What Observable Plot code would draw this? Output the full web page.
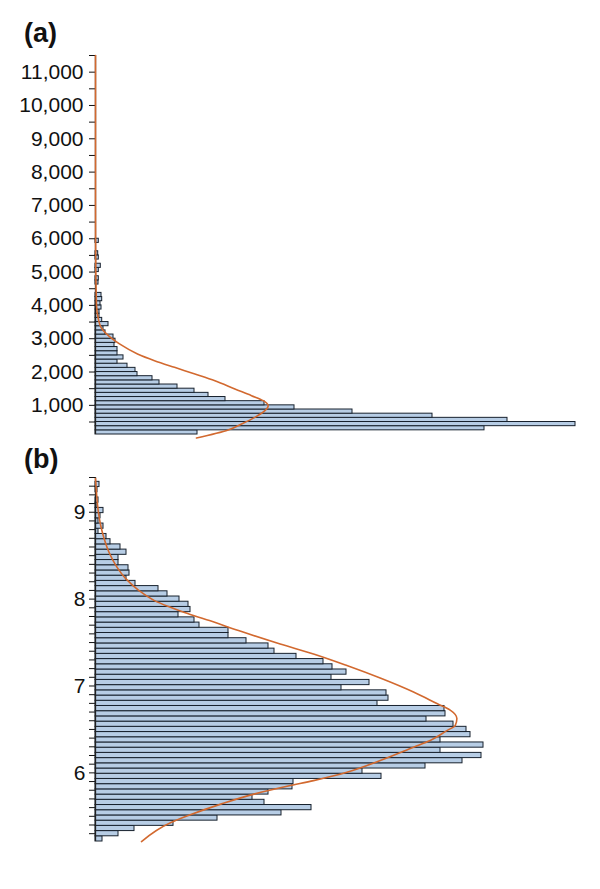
<!DOCTYPE html>
<html>
<head>
<meta charset="utf-8">
<script src="https://cdn.jsdelivr.net/npm/d3@7"></script>
<script src="https://cdn.jsdelivr.net/npm/@observablehq/plot@0.6"></script>
<style>
  body { margin: 0; background: #fff; }
  #wrap { position: relative; width: 600px; height: 889px; overflow: hidden; }
  .panel { position: absolute; left: 0; }
  .lab { position: absolute; left: 24px; font: bold 27px/1 "Liberation Sans", Arial, sans-serif; color: #111; }
</style>
</head>
<body>
<div id="wrap">
  <div class="panel" id="pa" style="top:0px"></div>
  <div class="panel" id="pb" style="top:445px"></div>
  <div class="lab" style="top:20px">(a)</div>
  <div class="lab" style="top:446px">(b)</div>
</div>
<script>
// ---------- Panel (a): raw values ----------
const binWidthA = 125;
const binLowA = [125,250,375,500,625,750,875,1000,1125,1250,1375,1500,1625,1750,1875,2000,
  2125,2250,2375,2500,2625,2750,2875,3000,3125,3250,3375,3500,3625,3750,3875,4000,4125,4250,
  4375,4500,4625,4750,4875,5000,5125,5250,5375,5500,5625,5750,5875];
const countA = [102,389,480,412,337,257,199,169,130,113,99,82,64,57,42,40,
  32,22,28,22,22,19,20,18,10,8,13,6.7,4,4,6,5,6.7,6,
  0,0,3,3.3,0,3.3,5.3,0,3.3,2.7,0,0,3.3];
const curveValueA = [11500,7000,5000,4500,4000,3600,3342,3143,2843,2543,2342,2141,1942,1741,1492,1291,1141,991,841,640,441,261,21];
const curveDensityA = [0,0,0.3,0.6,1,2.8,5.5,11,24,42,59,79,99.4,119.4,139.4,156,167.7,172.7,169.4,159.4,146,132.7,101];
const ticksA = [500,1000,1500,2000,2500,3000,3500,4000,4500,5000,5500,6000,6500,7000,7500,8000,8500,9000,9500,10000,10500,11000,11500];
const labelledA = [1000,2000,3000,4000,5000,6000,7000,8000,9000,10000,11000];

// ---------- Panel (b): log values ----------
const binWidthB = 0.06;
const binLowB = [5.21,5.27,5.33,5.39,5.45,5.51,5.57,5.63,5.69,5.75,5.81,5.87,5.93,5.99,6.05,6.11,6.17,6.23,6.29,6.35,
  6.41,6.47,6.53,6.59,6.65,6.71,6.77,6.83,6.89,6.95,7.01,7.07,7.13,7.19,7.25,7.31,7.37,7.43,7.49,7.55,
  7.61,7.67,7.73,7.79,7.85,7.91,7.97,8.03,8.09,8.15,8.21,8.27,8.33,8.39,8.45,8.51,8.57,8.63,8.69,8.75,
  8.81,8.87,8.93,8.99,9.05,9.11,9.17,9.23,9.29];
const countB = [7,23,39,78,122,186,216,169,157,173,197,198,286,267,330,367,386,345,388,345,
  375,371,358,331,350,349,282,293,291,246,274,236,251,237,228,201,179,173,151,133,
  133,104,99,83,95,93,84,72,63,40,31,34,33,23,23,31,25,15,11,3,
  8,3,5,8,2,3,0,2,4];
const curveValueB = [9.388,9.192,9.0,8.847,8.697,8.539,8.386,8.233,8.099,7.983,7.914,7.845,7.753,7.638,7.483,7.368,7.235,7.091,6.930,6.798,6.723,6.625,6.545,6.487,6.372,6.295,6.142,6.007,5.911,5.848,5.758,5.643,5.508,5.431,5.209];
const curveDensityB = [0,1.2,2.9,5.2,8.6,13.5,20.5,30.5,43.5,59,73,89,114,143,184.7,218,251.4,284.7,318,341.4,354.7,361.4,359.7,351.4,334.7,318,284.7,251.4,218,192.7,159.4,126,92.7,76,46];
const ticksB = [5.3,5.4,5.5,5.6,5.7,5.8,5.9,6,6.1,6.2,6.3,6.4,6.5,6.6,6.7,6.8,6.9,7,7.1,7.2,7.3,7.4,7.5,7.6,7.7,7.8,7.9,8,8.1,8.2,8.3,8.4,8.5,8.6,8.7,8.8,8.9,9,9.1,9.2,9.3,9.4];
const labelledB = [6,7,8,9];

const BAR_FILL = "#b7cde5", BAR_STROKE = "#17212d", CURVE = "#d2692f";
const FONT = '"Liberation Sans", Arial, sans-serif';

const dataA = binLowA.map((lo, i) => ({lo, hi: lo + binWidthA, n: countA[i]}));
const lineA = curveValueA.map((v, i) => ({v, d: curveDensityA[i]}));
const dataB = binLowB.map((lo, i) => ({lo, hi: +(lo + binWidthB).toFixed(3), n: countB[i]}));
const lineB = curveValueB.map((v, i) => ({v, d: curveDensityB[i]}));

const fmtA = d3.format(",");
function panel(data, line, opts) {
  return Plot.plot({
    width: 600,
    height: opts.height,
    marginTop: opts.marginTop,
    marginBottom: opts.marginBottom,
    marginLeft: 95,
    marginRight: 5,
    style: {fontFamily: FONT, fontSize: "21px", color: "#111", background: "transparent", overflow: "visible"},
    x: {domain: [0, 500], axis: null},
    y: {domain: opts.domain, ticks: opts.ticks, tickFormat: opts.fmt, tickSize: 6, tickPadding: opts.pad, label: null},
    marks: [
      Plot.rect(data, {x1: 0, x2: "n", y1: "lo", y2: "hi", fill: BAR_FILL, stroke: BAR_STROKE, strokeWidth: 1}),
      Plot.ruleX([0], {stroke: "#222", strokeWidth: 1.3}),
      Plot.line(line, {x: "d", y: "v", stroke: CURVE, strokeWidth: 1.6, curve: "monotone-y"})
    ]
  });
}

document.getElementById("pa").appendChild(panel(dataA, lineA, {
  height: 445, marginTop: 55, marginBottom: 11, domain: [125, 11500], ticks: ticksA, pad: 6,
  fmt: d => labelledA.includes(d) ? fmtA(d) : ""
}));
document.getElementById("pb").appendChild(panel(dataB, lineB, {
  height: 444, marginTop: 32, marginBottom: 48, domain: [5.21, 9.4], ticks: ticksB, pad: 4,
  fmt: d => labelledB.some(l => Math.abs(l - d) < 1e-9) ? String(Math.round(d)) : ""
}));
</script>
</body>
</html>
